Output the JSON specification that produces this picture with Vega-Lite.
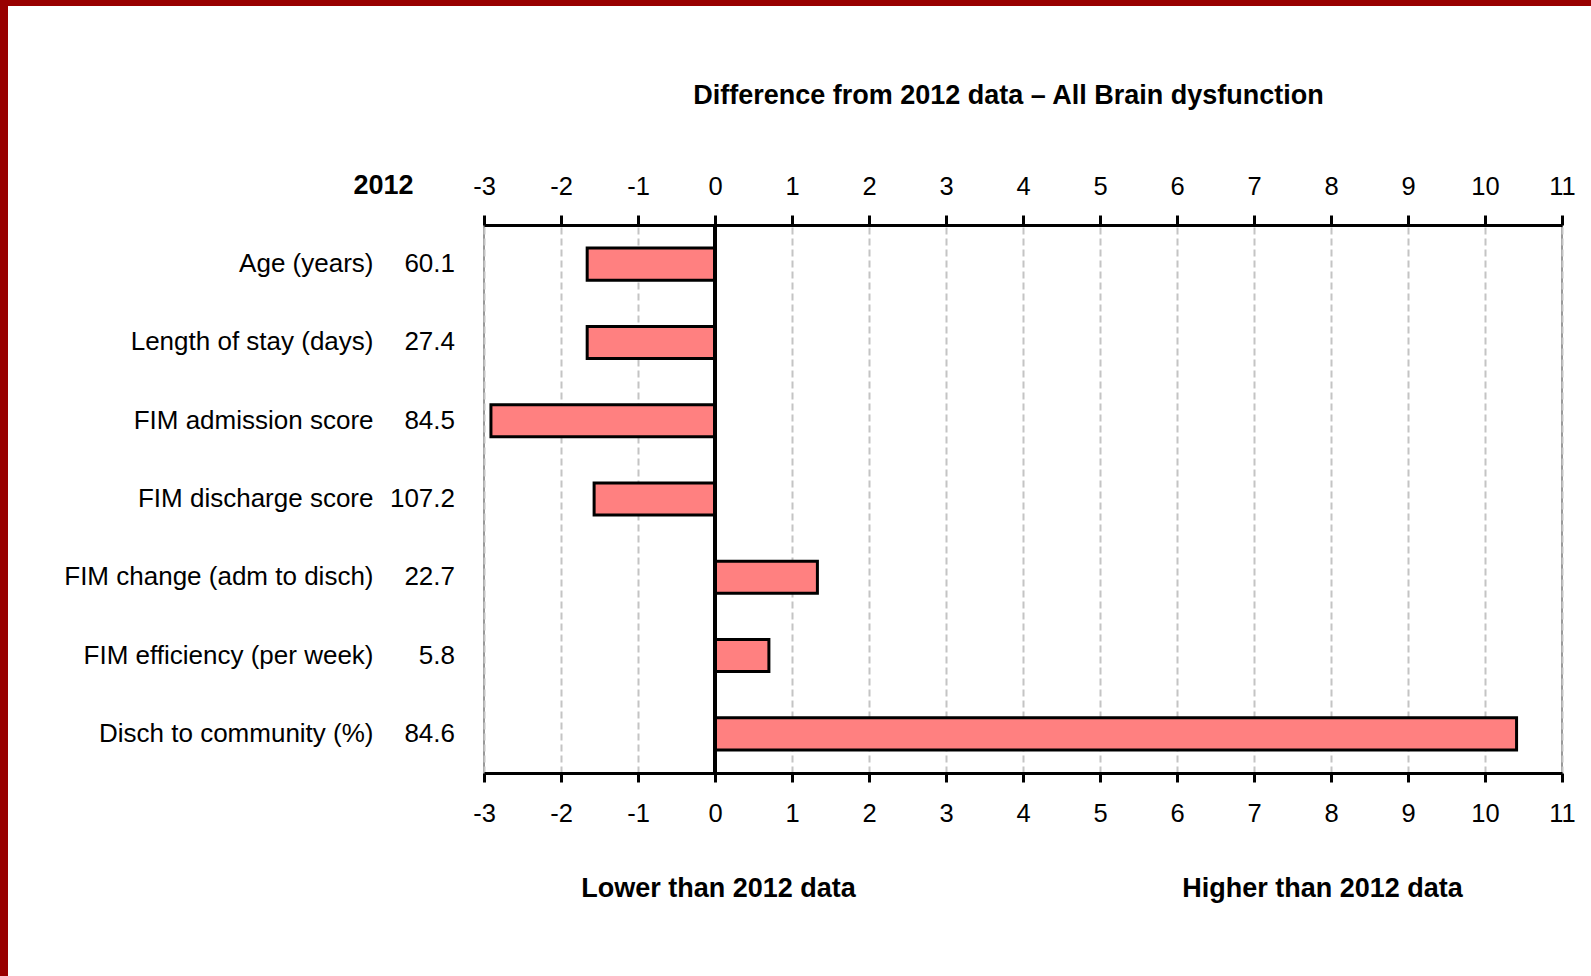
{
  "$schema": "https://vega.github.io/schema/vega-lite/v6.json",
  "width": 1078,
  "height": 548,
  "autosize": {"type": "none"},
  "padding": {"left": 484, "top": 225, "right": 29, "bottom": 203},
  "background": "white",
  "config": {
    "font": "Liberation Sans",
    "view": {"stroke": "#999999", "strokeWidth": 2},
    "legend": {"strokeColor": "#990000", "strokeWidth": 14, "padding": 1300}
  },
  "data": {
    "values": [
      {"measure": "Age (years)", "diff": -1.66, "base": "60.1"},
      {"measure": "Length of stay (days)", "diff": -1.66, "base": "27.4"},
      {"measure": "FIM admission score", "diff": -2.91, "base": "84.5"},
      {"measure": "FIM discharge score", "diff": -1.57, "base": "107.2"},
      {"measure": "FIM change (adm to disch)", "diff": 1.33, "base": "22.7"},
      {"measure": "FIM efficiency (per week)", "diff": 0.7, "base": "5.8"},
      {"measure": "Disch to community (%)", "diff": 10.41, "base": "84.6"}
    ]
  },
  "resolve": {"axis": {"x": "independent"}},
  "layer": [
    {
      "mark": {"type": "bar", "stroke": "black", "strokeWidth": 3},
      "encoding": {
        "fill": {
          "datum": "Difference", "type": "nominal",
          "scale": {"range": ["#FF8080"]},
          "legend": {
            "orient": "none", "legendX": -483, "legendY": -226,
            "title": null, "symbolOpacity": 0, "labelOpacity": 0, "labelExpr": "''"
          }
        },
        "y": {
          "field": "measure", "type": "nominal", "sort": null,
          "scale": {"paddingInner": 0.59, "paddingOuter": 0.295},
          "axis": {
            "orient": "left", "ticks": false, "tickSize": 0, "domain": false, "grid": false,
            "labelPadding": 111, "labelFontSize": 26, "labelColor": "black", "labelLimit": 0,
            "title": "2012", "titleAngle": 0, "titleX": -101, "titleY": -32,
            "titleAlign": "center", "titleBaseline": "alphabetic",
            "titleFontSize": 27, "titleFontWeight": "bold", "titleColor": "black"
          }
        },
        "x": {
          "field": "diff", "type": "quantitative",
          "scale": {"domain": [-3, 11], "nice": false, "zero": false},
          "axis": {
            "orient": "bottom", "values": [-3, -2, -1, 0, 1, 2, 3, 4, 5, 6, 7, 8, 9, 10, 11],
            "labelExpr": "datum.value + ''", "labelFlush": false, "labelOverlap": false,
            "grid": true, "gridDash": [7, 4], "gridColor": "#c4c4c4", "gridWidth": 2,
            "domainColor": "black", "domainWidth": 3,
            "tickColor": "black", "tickWidth": 3, "tickSize": 9,
            "labelFontSize": 25.5, "labelColor": "black", "labelBaseline": "alphabetic", "labelPadding": 39,
            "title": "Lower than 2012 data", "titleX": 234, "titleY": 123,
            "titleAlign": "center", "titleBaseline": "alphabetic",
            "titleFontSize": 27, "titleFontWeight": "bold", "titleColor": "black"
          }
        }
      }
    },
    {
      "mark": {"type": "rule", "color": "black", "strokeWidth": 4},
      "encoding": {
        "x": {
          "datum": 0, "type": "quantitative",
          "axis": {
            "orient": "top", "values": [-3, -2, -1, 0, 1, 2, 3, 4, 5, 6, 7, 8, 9, 10, 11],
            "labelExpr": "datum.value + ''", "labelFlush": false, "labelOverlap": false,
            "grid": false,
            "domainColor": "black", "domainWidth": 3,
            "tickColor": "black", "tickWidth": 3, "tickSize": 10,
            "labelFontSize": 25.5, "labelColor": "black", "labelBaseline": "alphabetic", "labelPadding": 21,
            "title": "Difference from 2012 data – All Brain dysfunction", "titleX": 524, "titleY": -122,
            "titleAlign": "center", "titleBaseline": "alphabetic",
            "titleFontSize": 27, "titleFontWeight": "bold", "titleColor": "black"
          }
        }
      }
    },
    {
      "mark": {"type": "text", "align": "right", "baseline": "middle", "dx": -29, "fontSize": 26, "color": "black"},
      "encoding": {
        "y": {
          "field": "measure", "type": "nominal", "sort": null,
          "axis": {
            "orient": "left", "ticks": false, "tickSize": 0, "domain": false, "grid": false,
            "labelPadding": 111, "labelFontSize": 26, "labelColor": "black", "labelLimit": 0,
            "title": "2012", "titleAngle": 0, "titleX": -101, "titleY": -32,
            "titleAlign": "center", "titleBaseline": "alphabetic",
            "titleFontSize": 27, "titleFontWeight": "bold", "titleColor": "black"
          }
        },
        "x": {
          "datum": -3, "type": "quantitative",
          "axis": {
            "orient": "bottom", "values": [0], "grid": false, "domain": false, "ticks": false, "labels": false,
            "title": "Higher than 2012 data", "titleX": 838, "titleY": 123,
            "titleAlign": "center", "titleBaseline": "alphabetic",
            "titleFontSize": 27, "titleFontWeight": "bold", "titleColor": "black"
          }
        },
        "text": {"field": "base"}
      }
    }
  ]
}
